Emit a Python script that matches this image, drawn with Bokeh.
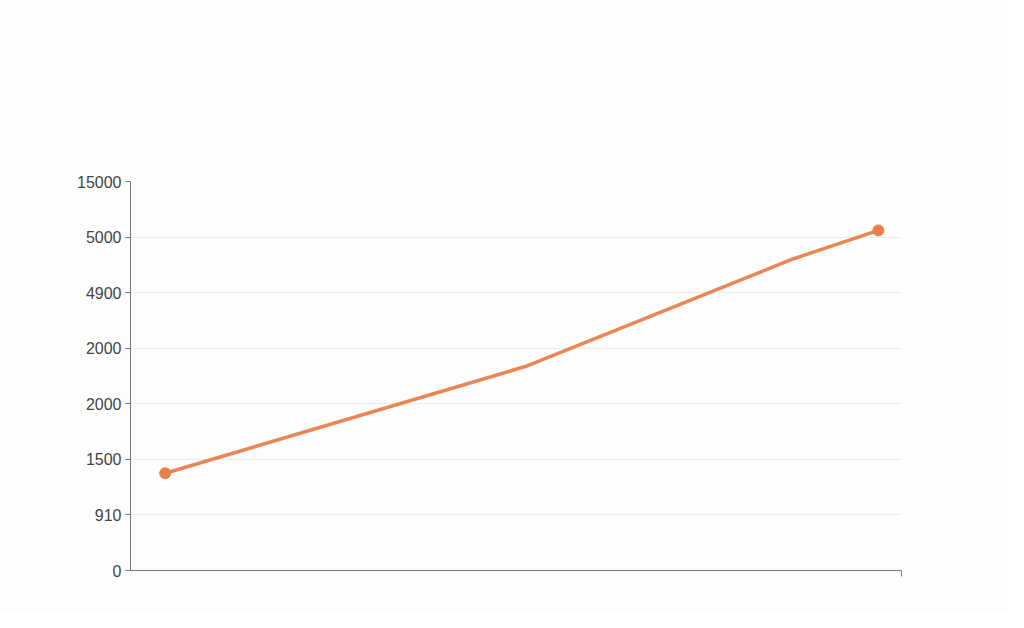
from bokeh.plotting import figure
from bokeh.models import Range1d, FixedTicker
from bokeh.embed import file_html
from bokeh.resources import INLINE

# Data
y_tick_labels = ["0", "910", "1500", "2000", "2000", "4900", "5000", "15000"]
x_values = [4.5, 51.2, 86.0, 97.0]
y_values = [1.75, 3.67, 5.61, 6.12]
marker_x = [x_values[0], x_values[-1]]
marker_y = [y_values[0], y_values[-1]]

line_color = "#E8804A"

p = figure(width=1008, height=612, output_backend="svg", toolbar_location=None,
           x_range=Range1d(0, 100), y_range=Range1d(0, 7),
           min_border_left=130, min_border_right=107, min_border_top=181, min_border_bottom=42)
p.background_fill_color = "#FDFDFD"
p.border_fill_color = "#FDFDFD"
p.outline_line_color = None

p.line(x_values, y_values, line_color=line_color, line_width=3.5, line_alpha=0.95)
p.scatter(marker_x, marker_y, size=11, fill_color=line_color, line_color=line_color)

# Y axis with custom labels
p.yaxis.ticker = FixedTicker(ticks=list(range(len(y_tick_labels))))
p.yaxis.major_label_overrides = {i: lab for i, lab in enumerate(y_tick_labels)}
p.yaxis.minor_tick_line_color = None
p.yaxis.major_tick_in = 0
p.yaxis.major_tick_out = 5
p.yaxis.axis_line_color = "#777777"
p.yaxis.major_tick_line_color = "#777777"
p.yaxis.major_label_text_font = "Liberation Sans"
p.yaxis.major_label_text_font_size = "16px"
p.yaxis.major_label_text_color = "#444444"
p.yaxis.major_label_standoff = 4

# X axis: line only, single tick at right end
p.xaxis.ticker = FixedTicker(ticks=[100])
p.xaxis.major_label_overrides = {100: ""}
p.xaxis.minor_tick_line_color = None
p.xaxis.major_tick_in = 0
p.xaxis.major_tick_out = 6
p.xaxis.axis_line_color = "#777777"
p.xaxis.major_tick_line_color = "#777777"

# Grid
p.xgrid.grid_line_color = None
p.ygrid.grid_line_color = "#EBEBEB"
p.ygrid.grid_line_width = 1

open("out.html", "w").write(file_html(p, INLINE))
